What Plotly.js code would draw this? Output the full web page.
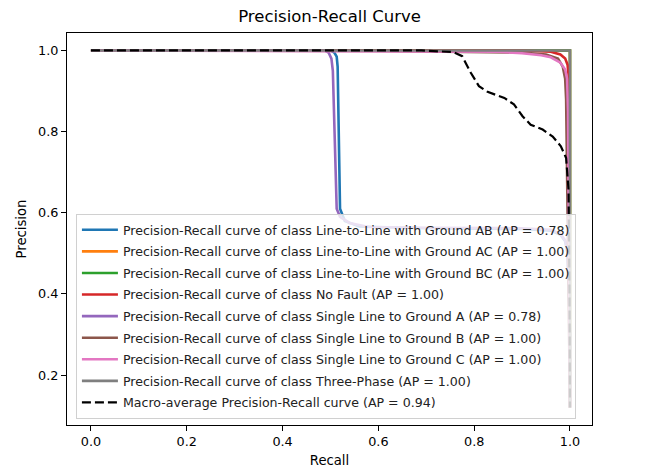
<!DOCTYPE html>
<html>
<head>
<meta charset="utf-8">
<script src="https://cdn.plot.ly/plotly-3.0.1.min.js"></script>
<style>html,body{margin:0;padding:0;background:#fff;}#chart{width:650px;height:471px;}</style>
</head>
<body>
<div id="chart"></div>
<script>
// Series names (legend labels)
const names = [
  "Precision-Recall curve of class Line-to-Line with Ground AB (AP = 0.78)",
  "Precision-Recall curve of class Line-to-Line with Ground AC (AP = 1.00)",
  "Precision-Recall curve of class Line-to-Line with Ground BC (AP = 1.00)",
  "Precision-Recall curve of class No Fault (AP = 1.00)",
  "Precision-Recall curve of class Single Line to Ground A (AP = 0.78)",
  "Precision-Recall curve of class Single Line to Ground B (AP = 1.00)",
  "Precision-Recall curve of class Single Line to Ground C (AP = 1.00)",
  "Precision-Recall curve of class Three-Phase (AP = 1.00)",
  "Macro-average Precision-Recall curve (AP = 0.94)"
];
const colors = ["#1f77b4","#ff7f0e","#2ca02c","#d62728","#9467bd","#8c564b","#e377c2","#7f7f7f","#000000"];

// Line-to-Line with Ground AB
const recallAB    = [0, 0.30, 0.50, 0.508, 0.513, 0.515, 0.516, 0.517, 0.518, 0.520, 0.53, 0.56, 0.70, 0.90, 0.96, 0.98, 0.99, 0.995, 0.998, 1.0, 1.0];
const precisionAB = [1, 1.00, 1.00, 0.995, 0.985, 0.96, 0.90, 0.80, 0.70, 0.61, 0.58, 0.566, 0.562, 0.560, 0.556, 0.546, 0.530, 0.50, 0.40, 0.30, 0.12];
// Line-to-Line with Ground AC
const recallAC    = [0, 1.0, 1.0];
const precisionAC = [1, 1.0, 0.12];
// Line-to-Line with Ground BC
const recallBC    = [0, 1.0, 1.0];
const precisionBC = [1, 1.0, 0.12];
// No Fault
const recallNF    = [0, 0.90, 0.96, 0.98, 0.99, 0.995, 0.997, 0.998, 0.999, 1.0];
const precisionNF = [1, 1.00, 0.997, 0.99, 0.98, 0.965, 0.94, 0.90, 0.50, 0.12];
// Single Line to Ground A
const recallA    = [0, 0.30, 0.488, 0.496, 0.502, 0.505, 0.507, 0.509, 0.511, 0.513, 0.52, 0.54, 0.58, 0.70, 0.90, 0.96, 0.98, 0.99, 0.995, 0.998, 1.0, 1.0];
const precisionA = [1, 1.00, 1.00, 0.995, 0.98, 0.95, 0.85, 0.75, 0.65, 0.61, 0.59, 0.575, 0.565, 0.563, 0.562, 0.558, 0.548, 0.532, 0.50, 0.40, 0.30, 0.12];
// Single Line to Ground B
const recallB    = [0, 0.60, 0.90, 0.95, 0.975, 0.985, 0.99, 0.992, 0.995, 1.0];
const precisionB = [1, 0.999, 0.995, 0.99, 0.98, 0.96, 0.93, 0.88, 0.60, 0.12];
// Single Line to Ground C
const recallC    = [0, 0.60, 0.85, 0.90, 0.92, 0.94, 0.96, 0.98, 0.99, 0.994, 0.996, 0.998, 1.0];
const precisionC = [1, 0.999, 0.997, 0.993, 0.99, 0.988, 0.983, 0.97, 0.953, 0.93, 0.85, 0.50, 0.12];
// Three-Phase
const recallTP    = [0, 1.0, 1.0];
const precisionTP = [1, 1.0, 0.12];
// Macro-average
const recallMacro    = [0, 0.50, 0.69, 0.757, 0.775, 0.793, 0.810, 0.828, 0.863, 0.883, 0.901, 0.918, 0.943, 0.964, 0.981, 0.992, 0.995, 0.997, 0.999, 1.0];
const precisionMacro = [1, 1.00, 1.00, 0.996, 0.986, 0.945, 0.912, 0.898, 0.883, 0.867, 0.838, 0.817, 0.805, 0.788, 0.764, 0.735, 0.698, 0.657, 0.40, 0.12];

const xs = [recallAB, recallAC, recallBC, recallNF, recallA, recallB, recallC, recallTP, recallMacro];
const ys = [precisionAB, precisionAC, precisionBC, precisionNF, precisionA, precisionB, precisionC, precisionTP, precisionMacro];

const traces = names.map((n, i) => ({
  x: xs[i], y: ys[i], name: n, type: "scatter", mode: "lines", legendgroup: "g" + i,
  line: {color: colors[i], width: i === 8 ? 2.2 : 2.6, dash: i === 8 ? "9px,4px" : "solid"}
}));

const font = "DejaVu Sans, sans-serif";
const layout = {
  width: 650, height: 471,
  margin: {l: 67, r: 58, t: 33, b: 46},
  paper_bgcolor: "#fff", plot_bgcolor: "#fff",
  font: {family: font, color: "#000", size: 13},
  title: {text: "Precision-Recall Curve", font: {family: font, size: 16.5, color: "#000"}, x: 0.507, xanchor: "center", y: 0.966, yanchor: "middle"},
  xaxis: {
    range: [-0.05, 1.046], tick0: 0, dtick: 0.2, tickformat: ".1f",
    showline: true, mirror: true, linecolor: "#000", linewidth: 1,
    ticks: "outside", ticklen: 5, tickcolor: "#000", showgrid: false, zeroline: false,
    tickfont: {family: font, size: 12.8, color: "#000"},
    title: {text: "Recall", font: {family: font, size: 13.2, color: "#000"}, standoff: 7},
    automargin: false
  },
  yaxis: {
    range: [0.077, 1.043], tick0: 0, dtick: 0.2, tickformat: ".1f",
    showline: true, mirror: true, linecolor: "#000", linewidth: 1,
    ticks: "outside", ticklen: 5, tickcolor: "#000", showgrid: false, zeroline: false,
    tickfont: {family: font, size: 12.8, color: "#000"},
    title: {text: "Precision", font: {family: font, size: 13.2, color: "#000"}, standoff: 8},
    automargin: false
  },
  showlegend: true,
  legend: {
    x: 0.017, y: 0.015, xanchor: "left", yanchor: "bottom",
    bgcolor: "rgba(255,255,255,0.8)", bordercolor: "#d0d0d0", borderwidth: 1,
    font: {family: font, size: 12.6, color: "#222"},
    itemwidth: 36, tracegroupgap: 2.2, entrywidth: 505, entrywidthmode: "pixels"
  }
};

Plotly.newPlot("chart", traces, layout, {staticPlot: true, displayModeBar: false});
</script>
</body>
</html>
